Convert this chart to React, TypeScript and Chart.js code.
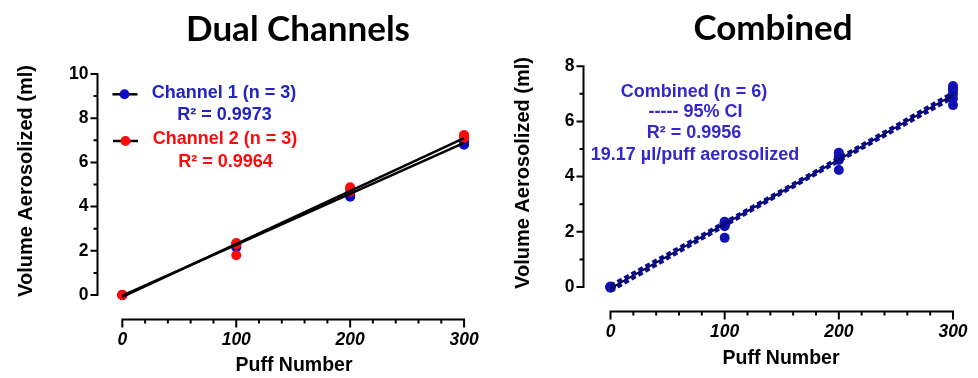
import React, { useEffect, useRef } from "react";
import { Chart, registerables } from "chart.js";

Chart.register(...registerables);

// ---------- Data ----------
const xTicks = [0, 100, 200, 300];
const xMinorTicks = [20, 40, 60, 80, 120, 140, 160, 180, 220, 240, 260, 280];
const leftYTicks = [0, 2, 4, 6, 8, 10];
const leftYMinorTicks = [1, 3, 5, 7, 9];
const rightYTicks = [0, 2, 4, 6, 8];
const rightYMinorTicks = [1, 3, 5, 7];

// Dual Channels (replicates per puff count)
const ch1X = [0, 0, 0, 100, 100, 100, 200, 200, 200, 300, 300, 300];
const ch1Y = [0, 0, 0, 2.15, 2.25, 2.3, 4.45, 4.5, 4.55, 6.8, 6.85, 6.95];
const ch2X = [0, 0, 0, 100, 100, 100, 200, 200, 200, 300, 300, 300];
const ch2Y = [0, 0, 0, 1.8, 2.3, 2.35, 4.67, 4.8, 4.87, 7.1, 7.2, 7.24];
const ch1FitX = [0, 300];
const ch1FitY = [-0.03, 6.88];
const ch2FitX = [0, 300];
const ch2FitY = [-0.08, 7.1];

// Combined
const combX = [0, 0, 0, 0, 0, 0, 100, 100, 100, 100, 100, 100, 200, 200, 200, 200, 200, 200, 300, 300, 300, 300, 300, 300];
const combY = [0, 0, 0, 0, -0.03, 0.02, 1.78, 2.2, 2.25, 2.3, 2.33, 2.36, 4.24, 4.6, 4.65, 4.72, 4.8, 4.86, 6.59, 6.83, 7.0, 7.13, 7.2, 7.28];
const combFitX = [0, 300];
const combFitY = [-0.05, 6.95];
const ciX = [0, 50, 100, 150, 200, 250, 300];
const ciUpper = [0.04, 1.18, 2.33, 3.49, 4.66, 5.84, 7.03];
const ciLower = [-0.14, 1.05, 2.23, 3.41, 4.57, 5.72, 6.87];

const FONT = "'Liberation Sans', Arial, sans-serif";
const TITLE_FONT = "Lato, 'Liberation Sans', sans-serif";

const pts = (xs: number[], ys: number[]) => xs.map((x, i) => ({ x, y: ys[i] }));

type Txt = { text: string; x: number; y: number; color: string };
type Marker = { x1: number; x2: number; y: number; dotX: number; color: string };

type PanelCfg = {
  datasets: any[];
  xMin: number;
  xMax: number;
  yMin: number;
  yMax: number;
  yTicks: number[];
  yMinor: number[];
  padTop: number;
  padRight: number;
  yScaleW: number;
  xScaleH: number;
  title: string;
  titleX: number;
  titleY: number;
  yTitleX: number;
  yTitleY: number;
  xTitleX: number;
  xTitleY: number;
  texts: Txt[];
  markers: Marker[];
};

function makePlugin(cfg: PanelCfg) {
  return {
    id: "prismAxes",
    afterDraw(chart: any) {
      const ctx = chart.ctx;
      const xs = chart.scales.x;
      const ys = chart.scales.y;
      const ca = chart.chartArea;
      ctx.save();
      ctx.strokeStyle = "#000";
      ctx.lineWidth = 2;
      ctx.lineCap = "butt";
      // y axis
      const ax = ca.left;
      const yTop = ys.getPixelForValue(cfg.yTicks[cfg.yTicks.length - 1]);
      const yBot = ys.getPixelForValue(0);
      ctx.beginPath();
      ctx.moveTo(ax, yTop - 1);
      ctx.lineTo(ax, yBot + 1);
      for (const v of cfg.yTicks) {
        const y = ys.getPixelForValue(v);
        ctx.moveTo(ax - 7, y);
        ctx.lineTo(ax, y);
      }
      for (const v of cfg.yMinor) {
        const y = ys.getPixelForValue(v);
        ctx.moveTo(ax - 4, y);
        ctx.lineTo(ax, y);
      }
      // x axis
      const ay = ca.bottom;
      const xL = xs.getPixelForValue(xTicks[0]);
      const xR = xs.getPixelForValue(xTicks[xTicks.length - 1]);
      ctx.moveTo(xL - 1, ay);
      ctx.lineTo(xR + 1, ay);
      for (const v of xTicks) {
        const x = xs.getPixelForValue(v);
        ctx.moveTo(x, ay);
        ctx.lineTo(x, ay + 8);
      }
      for (const v of xMinorTicks) {
        const x = xs.getPixelForValue(v);
        ctx.moveTo(x, ay);
        ctx.lineTo(x, ay + 4);
      }
      ctx.stroke();

      // title
      ctx.fillStyle = "#000";
      ctx.textAlign = "center";
      ctx.textBaseline = "middle";
      ctx.font = `bold 35px ${TITLE_FONT}`;
      ctx.fillText(cfg.title, cfg.titleX, cfg.titleY);

      // axis titles
      ctx.font = `bold 19.5px ${FONT}`;
      ctx.fillText("Puff Number", cfg.xTitleX, cfg.xTitleY);
      ctx.save();
      ctx.translate(cfg.yTitleX, cfg.yTitleY);
      ctx.rotate(-Math.PI / 2);
      ctx.font = `bold 20px ${FONT}`;
      ctx.fillText("Volume Aerosolized (ml)", 0, 0);
      ctx.restore();

      // annotation texts
      ctx.font = `bold 18px ${FONT}`;
      for (const t of cfg.texts) {
        ctx.fillStyle = t.color;
        ctx.fillText(t.text, t.x, t.y);
      }
      // legend markers
      for (const m of cfg.markers) {
        ctx.strokeStyle = "#000";
        ctx.lineWidth = 2.5;
        ctx.beginPath();
        ctx.moveTo(m.x1, m.y);
        ctx.lineTo(m.x2, m.y);
        ctx.stroke();
        ctx.fillStyle = m.color;
        ctx.beginPath();
        ctx.arc(m.dotX, m.y, 5, 0, Math.PI * 2);
        ctx.fill();
      }
      ctx.restore();
    },
  };
}

function Panel({ cfg }: { cfg: PanelCfg }) {
  const ref = useRef<HTMLCanvasElement | null>(null);
  useEffect(() => {
    if (!ref.current) return;
    const chart = new Chart(ref.current, {
      type: "scatter",
      data: { datasets: cfg.datasets },
      options: {
        animation: false,
        responsive: false,
        layout: { padding: { left: 0, top: cfg.padTop, right: cfg.padRight, bottom: 0 } },
        plugins: {
          legend: { display: false },
          tooltip: { enabled: false },
          title: { display: false },
        },
        scales: {
          x: {
            type: "linear",
            min: cfg.xMin,
            max: cfg.xMax,
            grid: { display: false, drawTicks: false },
            border: { display: false },
            ticks: {
              padding: 10,
              color: "#000",
              maxRotation: 0,
              autoSkip: false,
              font: { family: FONT, size: 17.5, weight: "bold", style: "italic" },
            },
            afterBuildTicks: (s: any) => {
              s.ticks = xTicks.map((v) => ({ value: v }));
            },
            afterFit: (s: any) => {
              s.height = cfg.xScaleH;
            },
          },
          y: {
            type: "linear",
            min: cfg.yMin,
            max: cfg.yMax,
            grid: { display: false, drawTicks: false },
            border: { display: false },
            ticks: {
              padding: 9,
              color: "#000",
              autoSkip: false,
              font: { family: FONT, size: 17.5, weight: "bold" },
            },
            afterBuildTicks: (s: any) => {
              s.ticks = cfg.yTicks.map((v) => ({ value: v }));
            },
            afterFit: (s: any) => {
              s.width = cfg.yScaleW;
            },
          },
        },
      } as any,
      plugins: [makePlugin(cfg)],
    });
    return () => chart.destroy();
  }, [cfg]);
  return <canvas ref={ref} width={489} height={378} style={{ display: "block" }} />;
}

const BLUE = "#0a0ac8";
const BLUE_TEXT = "#2323c4";
const RED = "#ff0a0a";
const NAVY_PT = "#1212b4";
const COMB_TEXT = "#3328cc";

const leftCfg: PanelCfg = {
  datasets: [
    { label: "Channel 1 fit", data: pts(ch1FitX, ch1FitY), showLine: true, borderColor: "#000", borderWidth: 2.5, pointRadius: 0, order: 0, clip: false },
    { label: "Channel 2 fit", data: pts(ch2FitX, ch2FitY), showLine: true, borderColor: "#000", borderWidth: 2.5, pointRadius: 0, order: 0, clip: false },
    { label: "Channel 2", data: pts(ch2X, ch2Y), showLine: false, pointRadius: 5, pointBackgroundColor: RED, pointBorderColor: RED, pointBorderWidth: 0, order: 1, clip: false },
    { label: "Channel 1", data: pts(ch1X, ch1Y), showLine: false, pointRadius: 5, pointBackgroundColor: BLUE, pointBorderColor: BLUE, pointBorderWidth: 0, order: 2, clip: false },
  ],
  xMin: -21.8,
  xMax: 307.9,
  yMin: -1.109,
  yMax: 10.5,
  yTicks: leftYTicks,
  yMinor: leftYMinorTicks,
  padTop: 62.95,
  padRight: 14,
  yScaleW: 97.5,
  xScaleH: 58.5,
  title: "Dual Channels",
  titleX: 298,
  titleY: 30,
  yTitleX: 26,
  yTitleY: 181,
  xTitleX: 294,
  xTitleY: 366,
  texts: [
    { text: "Channel 1 (n = 3)", x: 224, y: 93.5, color: BLUE_TEXT },
    { text: "R² = 0.9973", x: 224.5, y: 115.5, color: BLUE_TEXT },
    { text: "Channel 2 (n = 3)", x: 225, y: 139.5, color: RED },
    { text: "R² = 0.9964", x: 225.5, y: 162, color: RED },
  ],
  markers: [
    { x1: 112.5, x2: 137.5, y: 94.3, dotX: 124.5, color: BLUE },
    { x1: 113, x2: 138, y: 141, dotX: 125.5, color: RED },
  ],
};

const rightCfg: PanelCfg = {
  datasets: [
    { label: "CI upper", data: pts(ciX, ciUpper), showLine: true, borderColor: "#0a0a8c", borderWidth: 4, borderDash: [5, 3], pointRadius: 0, order: 0, clip: false },
    { label: "CI lower", data: pts(ciX, ciLower), showLine: true, borderColor: "#0a0a8c", borderWidth: 4, borderDash: [5, 3], pointRadius: 0, order: 0, clip: false },
    { label: "Combined fit", data: pts(combFitX, combFitY), showLine: true, borderColor: "#000", borderWidth: 2, pointRadius: 0, order: 1, clip: false },
    { label: "Combined", data: pts(combX, combY), showLine: false, pointRadius: 5, pointBackgroundColor: NAVY_PT, pointBorderColor: NAVY_PT, pointBorderWidth: 0, order: 2, clip: false },
  ],
  xMin: -23.65,
  xMax: 308.76,
  yMin: -0.888,
  yMax: 8.3,
  yTicks: rightYTicks,
  yMinor: rightYMinorTicks,
  padTop: 57.9,
  padRight: 15,
  yScaleW: 94.5,
  xScaleH: 66.5,
  title: "Combined",
  titleX: 284,
  titleY: 29,
  yTitleX: 34,
  yTitleY: 173,
  xTitleX: 292,
  xTitleY: 359,
  texts: [
    { text: "Combined (n = 6)", x: 205, y: 92, color: COMB_TEXT },
    { text: "----- 95% CI", x: 206.5, y: 112, color: COMB_TEXT },
    { text: "R² = 0.9956", x: 205, y: 133.5, color: COMB_TEXT },
    { text: "19.17 µl/puff aerosolized", x: 206, y: 155.5, color: COMB_TEXT },
  ],
  markers: [],
};

export default function App() {
  return (
    <div style={{ position: "absolute", left: 0, top: 0, width: 978, height: 378, display: "flex", background: "#fff" }}>
      <Panel cfg={leftCfg} />
      <Panel cfg={rightCfg} />
    </div>
  );
}
